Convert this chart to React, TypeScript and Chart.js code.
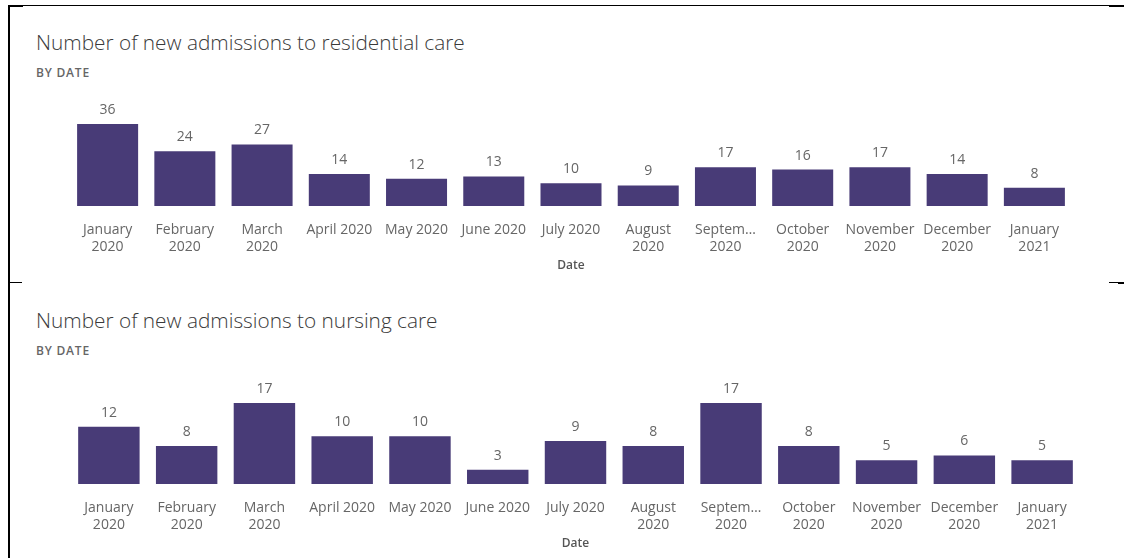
import React, { useEffect, useRef } from "react";
import { Chart, registerables } from "chart.js";

Chart.register(...registerables);

// ---- data ----
const categories: (string | string[])[] = [
  ["January", "2020"],
  ["February", "2020"],
  ["March", "2020"],
  "April 2020",
  "May 2020",
  "June 2020",
  "July 2020",
  ["August", "2020"],
  ["Septem…", "2020"],
  ["October", "2020"],
  ["November", "2020"],
  ["December", "2020"],
  ["January", "2021"],
];
const residentialValues = [36, 24, 27, 14, 12, 13, 10, 9, 17, 16, 17, 14, 8];
const nursingValues = [12, 8, 17, 10, 10, 3, 9, 8, 17, 8, 5, 6, 5];
const residentialTitle = "Number of new admissions to residential care";
const nursingTitle = "Number of new admissions to nursing care";
const subtitleText = "BY DATE";
const axisTitleText = "Date";

const FONT = "'Open Sans', sans-serif";
const BAR_COLOR = "#483B77";
const LABEL_COLOR = "#666666";

const valueLabels = {
  id: "valueLabels",
  afterDatasetsDraw(chart: any) {
    const ctx = chart.ctx;
    const meta = chart.getDatasetMeta(0);
    const data = chart.data.datasets[0].data;
    ctx.save();
    ctx.font = `14px ${FONT}`;
    ctx.fillStyle = LABEL_COLOR;
    ctx.textAlign = "center";
    ctx.textBaseline = "middle";
    meta.data.forEach((bar: any, i: number) => {
      ctx.fillText(String(data[i]), bar.x, bar.y - 14);
    });
    ctx.restore();
  },
};

function BarPanel(props: {
  values: number[];
  left: number;
  top: number;
  width: number;
  height: number;
  padTop: number;
  barPct: number;
}) {
  const ref = useRef<HTMLCanvasElement | null>(null);
  useEffect(() => {
    if (!ref.current) return;
    const chart = new Chart(ref.current, {
      type: "bar",
      data: {
        labels: categories as any,
        datasets: [
          {
            data: props.values,
            backgroundColor: BAR_COLOR,
            borderWidth: 0,
            categoryPercentage: 1,
            barPercentage: props.barPct,
          },
        ],
      },
      options: {
        responsive: false,
        animation: false,
        layout: { padding: { top: props.padTop, left: 0, right: 0, bottom: 0 } },
        plugins: { legend: { display: false }, tooltip: { enabled: false } },
        scales: {
          x: {
            grid: { display: false, drawTicks: true, tickLength: 14 },
            border: { display: false },
            ticks: {
              color: LABEL_COLOR,
              font: { family: FONT, size: 14, lineHeight: 1.2 },
              padding: 2,
              autoSkip: false,
              maxRotation: 0,
              minRotation: 0,
            },
            title: {
              display: true,
              text: axisTitleText,
              color: "#555555",
              font: { family: FONT, size: 12, weight: "600", lineHeight: 1.2 },
              padding: { top: 1, bottom: 0 },
            },
          },
          y: { display: false, min: 0, max: Math.max(...props.values) },
        },
      },
      plugins: [valueLabels],
    } as any);
    return () => chart.destroy();
  }, []);
  return (
    <canvas
      ref={ref}
      width={props.width}
      height={props.height}
      style={{
        position: "absolute",
        left: props.left,
        top: props.top,
        width: props.width,
        height: props.height,
      }}
    />
  );
}

const line = (s: React.CSSProperties) => (
  <div style={{ position: "absolute", background: "#000", ...s }} />
);

function Heading(props: { title: string; top: number }) {
  return (
    <>
      <div
        style={{
          position: "absolute",
          left: 36,
          top: props.top,
          fontFamily: FONT,
          fontWeight: 300,
          fontSize: 20.8,
          lineHeight: "20px",
          color: "#3a3a3a",
          whiteSpace: "nowrap",
        }}
      >
        {props.title}
      </div>
      <div
        style={{
          position: "absolute",
          left: 36,
          top: props.top + 35,
          fontFamily: FONT,
          fontWeight: 600,
          fontSize: 12,
          lineHeight: "12px",
          letterSpacing: "0.8px",
          color: "#666666",
          whiteSpace: "nowrap",
        }}
      >
        {subtitleText}
      </div>
    </>
  );
}

export default function App() {
  return (
    <div
      style={{
        position: "fixed",
        left: 0,
        top: 0,
        width: 1124,
        height: 558,
        background: "#fff",
        overflow: "hidden",
      }}
    >
      {line({ left: 8, top: 5, width: 1101, height: 1 })}
      {line({ left: 8, top: 5, width: 15, height: 2 })}
      {line({ left: 1109, top: 5, width: 15, height: 2 })}
      {line({ left: 8, top: 5, width: 1.5, height: 553 })}
      {line({ left: 8, top: 282, width: 14, height: 1 })}
      {line({ left: 1109, top: 282, width: 15, height: 1 })}
      {line({ left: 1118, top: 282, width: 6, height: 1.5 })}

      <Heading title={residentialTitle} top={32} />
      <BarPanel values={residentialValues} left={69} top={95} width={1004} height={178} padTop={29} barPct={0.79} />

      <Heading title={nursingTitle} top={310} />
      <BarPanel values={nursingValues} left={70} top={374} width={1011} height={177} padTop={29} barPct={0.79} />
    </div>
  );
}
